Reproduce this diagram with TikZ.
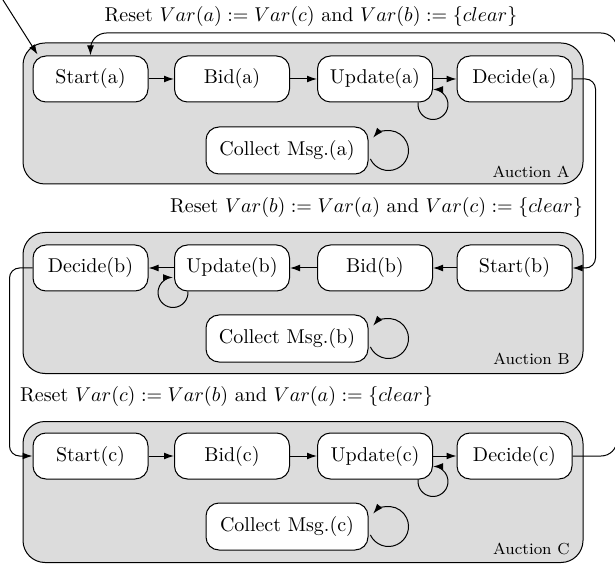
\documentclass[tikz,border=0pt]{standalone}
\usetikzlibrary{arrows.meta,calc}
\definecolor{boxgray}{RGB}{220,220,220}
\begin{document}
\begin{tikzpicture}[x=0.5pt,y=0.5pt,
  state/.style={draw, fill=white, rounded corners=6.5pt, minimum width=57.5pt, minimum height=23pt, inner sep=0pt, font=\normalsize, line width=0.5pt},
  collect/.style={state, minimum width=81pt, minimum height=23.5pt},
  auction/.style={draw, fill=boxgray, rounded corners=11pt, inner sep=0pt, line width=0.5pt, minimum width=280pt, minimum height=70.5pt},
  arr/.style={-{Latex[length=5pt,width=3.4pt]}, line width=0.5pt},
  lbl/.style={font=\normalsize, inner sep=0pt},
  alabel/.style={font=\footnotesize, inner sep=0pt, anchor=east}]
\useasboundingbox (0,0) rectangle (615,-566);

% auction boxes
\node[auction] (boxa) at (303,-113.5) {};
\node[auction] (boxb) at (303,-303) {};
\node[auction] (boxc) at (303,-492) {};

% row A
\node[state] (sa) at (90.5,-79) {Start(a)};
\node[state] (ba) at (232,-79) {Bid(a)};
\node[state] (ua) at (375,-79) {Update(a)};
\node[state] (da) at (514.5,-79) {Decide(a)};
\node[collect] (ca) at (287,-150.5) {Collect Msg.(a)};
\node[alabel] (aa) at (570,-172) {Auction A};

% row B
\node[state] (db) at (90.5,-268) {Decide(b)};
\node[state] (ub) at (232,-268) {Update(b)};
\node[state] (bb) at (375,-268) {Bid(b)};
\node[state] (sb) at (514.5,-268) {Start(b)};
\node[collect] (cb) at (287,-338.5) {Collect Msg.(b)};
\node[alabel] (ab) at (570,-359) {Auction B};

% row C
\node[state] (sc) at (90.5,-456) {Start(c)};
\node[state] (bc) at (232,-456) {Bid(c)};
\node[state] (uc) at (375,-456) {Update(c)};
\node[state] (dc) at (514.5,-456) {Decide(c)};
\node[collect] (cc) at (287,-526.5) {Collect Msg.(c)};
\node[alabel] (ac) at (570,-549) {Auction C};

% reset labels
\node[lbl] (la) at (311,-17) {Reset $Var(a) := Var(c)$ and $Var(b) := \{clear\}$};
\node[lbl] (lb) at (376.5,-208) {Reset $Var(b) := Var(a)$ and $Var(c) := \{clear\}$};
\node[lbl] (lc) at (226.5,-396) {Reset $Var(c) := Var(b)$ and $Var(a) := \{clear\}$};

% straight arrows
\draw[arr] (sa) -- (ba);
\draw[arr] (ba) -- (ua);
\draw[arr] (ua) -- (da);
\draw[arr] (sb) -- (bb);
\draw[arr] (bb) -- (ub);
\draw[arr] (ub) -- (db);
\draw[arr] (sc) -- (bc);
\draw[arr] (bc) -- (uc);
\draw[arr] (uc) -- (dc);

% self loops
\draw[arr] ($(ua.south east)+(0,-2)+(172:15)$) arc[start angle=172,end angle=450,radius=15];
\draw[arr] ($(uc.south east)+(0,-2)+(172:15)$) arc[start angle=172,end angle=450,radius=15];
\draw[arr] ($(ub.south west)+(-1,-1)+(4:15)$) arc[start angle=4,end angle=-270,radius=15];
\draw[arr] ($(ca.east)+(20,0)+(205:20)$) arc[start angle=205,end angle=500,radius=20];
\draw[arr] ($(cb.east)+(20,0)+(205:20)$) arc[start angle=205,end angle=500,radius=20];
\draw[arr] ($(cc.east)+(20,0)+(205:20)$) arc[start angle=205,end angle=500,radius=20];

% transitions between auctions
\draw[arr, rounded corners=5pt] (da.east) -- ++(23,0) |- (sb.east);
\draw[arr, rounded corners=5pt] (db.west) -- ++(-23,0) |- (sc.west);
\coordinate (tr) at (617,-33);
\draw[arr, rounded corners=8pt] (dc.east) -| (tr) -| (sa.north);

% initial arrow
\coordinate (init) at (3,0);
\draw[arr] (init) -- ([shift={(5,1)}]sa.north west);
\end{tikzpicture}
\end{document}
